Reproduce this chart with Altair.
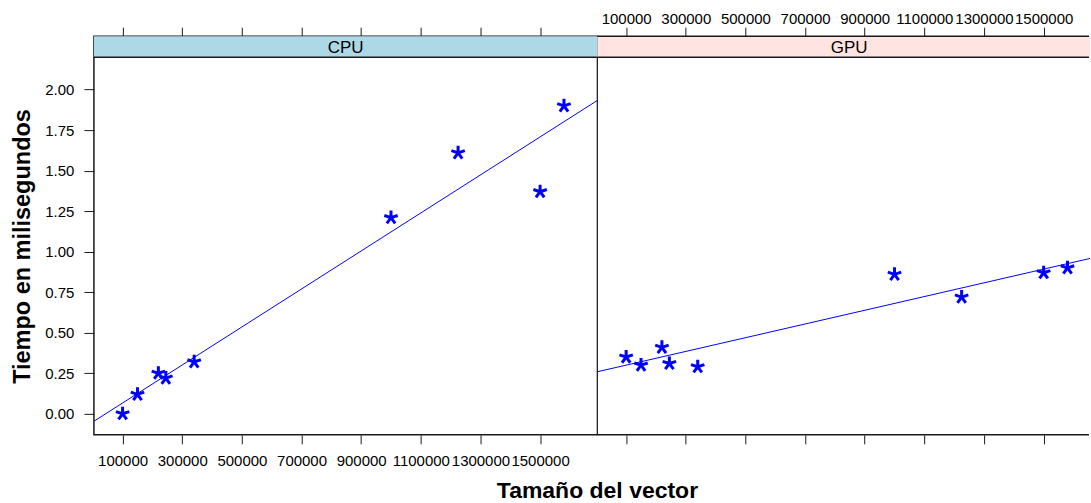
import altair as alt
import pandas as pd

# ---- data ----
sizes = [100000, 150000, 220000, 245000, 340000, 1000000, 1225000, 1500000, 1580000]
cpu_ms = [0.00, 0.12, 0.25, 0.22, 0.32, 1.21, 1.61, 1.37, 1.90]
gpu_ms = [0.35, 0.30, 0.41, 0.31, 0.29, 0.86, 0.72, 0.87, 0.90]
panels = ["CPU", "GPU"]
strip_colors = ["#ADD8E6", "#FFE4E1"]
x_ticks = [100000, 300000, 500000, 700000, 900000, 1100000, 1300000, 1500000]
y_ticks = [0.0, 0.25, 0.5, 0.75, 1.0, 1.25, 1.5, 1.75, 2.0]
x_title = "Tamaño del vector"
y_title = "Tiempo en milisegundos"

FONT = "Liberation Sans"
XD = [3850, 1692300]
YD = [-0.13, 2.2]
W_L, W_R, H, SH = 504, 493, 378, 21
HT = H + SH
XD_R = [XD[0], XD[0] + (XD[1] - XD[0]) * W_R / W_L]
BORDER = "#1a1a1a"
BW = 1.5
STAR = "M0,-1L0,0M0.951,-0.309L0,0M0.588,0.809L0,0M-0.588,0.809L0,0M-0.951,-0.309L0,0"


def make_panel(name, values, color, first):
    w = W_L if first else W_R
    dom = XD if first else XD_R
    xscale = alt.Scale(domain=dom, nice=False, zero=False)
    yscale = alt.Scale(domain=YD, nice=False, zero=False, range=[HT, SH])

    top_axis = alt.Axis(orient="top", values=x_ticks, format="d", labels=not first,
                        tickSize=9, labelPadding=1, labelOverlap=False, labelFlush=False,
                        title=None, domain=False, grid=False)
    bottom_axis = alt.Axis(orient="bottom", values=x_ticks, format="d", labels=first,
                           tickSize=9, labelPadding=10, labelOverlap=False, labelFlush=False,
                           title=None, domain=False, grid=False)
    if first:
        y_axis = alt.Axis(values=y_ticks, format=".2f", tickSize=10, labelPadding=10,
                          title=y_title, titleFontSize=23.5, titleFontWeight="bold",
                          titlePadding=10, domain=False, grid=False, labelFlush=False)
    else:
        y_axis = None

    strip_df = pd.DataFrame({"panel": [name], "mid": [(XD[0] + XD[1]) / 2]})
    sbase = alt.Chart(strip_df)
    s_rect = sbase.mark_rect(fill=color, strokeWidth=0).encode(
        x=alt.value(0), x2=alt.value(w), y=alt.value(0), y2=alt.value(SH))
    s_rule = sbase.mark_rule(color=BORDER, strokeWidth=BW).encode(
        x=alt.value(0), x2=alt.value(w if first else w - 1), y=alt.value(SH))
    s_text = sbase.mark_text(fontSize=17, font=FONT, color="black", baseline="middle").encode(
        x=alt.X("mid:Q", scale=xscale, axis=top_axis),
        y=alt.value(SH / 2 + 1),
        text="panel:N",
    )

    df = pd.DataFrame({"size": sizes, "time": values})
    base = alt.Chart(df)
    pts = base.mark_point(shape=STAR, size=200, strokeWidth=3, color="#0000FF",
                          opacity=1, filled=False).encode(
        x=alt.X("size:Q", scale=xscale, axis=bottom_axis),
        y=alt.Y("time:Q", scale=yscale, axis=y_axis),
    )
    line = base.transform_regression("size", "time", extent=dom).mark_line(
        color="#0000FF", strokeWidth=1, clip=True).encode(
        x=alt.X("size:Q", scale=xscale, axis=bottom_axis),
        y=alt.Y("time:Q", scale=yscale, axis=y_axis))
    data_layer = alt.layer(pts, line)

    extra = []
    if first:
        tdf = pd.DataFrame({"t": [x_title]})
        xt = alt.Chart(tdf).mark_text(fontSize=23, fontWeight="bold", font=FONT,
                                      color="black", baseline="middle", align="center").encode(
            x=alt.value(W_L), y=alt.value(HT + 56), text="t:N")
        extra.append(xt)
        view = alt.ViewBackground(fill="white", stroke=BORDER, strokeWidth=BW)
    else:
        r_top = sbase.mark_rule(color=BORDER, strokeWidth=BW).encode(
            x=alt.value(0), x2=alt.value(w - 1), y=alt.value(0))
        r_bot = sbase.mark_rule(color=BORDER, strokeWidth=BW).encode(
            x=alt.value(0), x2=alt.value(w - 1), y=alt.value(HT))
        extra += [r_top, r_bot]
        view = alt.ViewBackground(fill="white", stroke="transparent")

    panel = alt.layer(s_rect, s_rule, s_text, data_layer, *extra).resolve_scale(
        x="independent").properties(width=w, height=HT, view=view)
    return panel


left = make_panel(panels[0], cpu_ms, strip_colors[0], True)
right = make_panel(panels[1], gpu_ms, strip_colors[1], False)

chart = alt.hconcat(left, right, spacing=0, bounds="flush").properties(
    padding={"left": 10, "top": 10, "right": 0, "bottom": 0},
    background="white",
).configure_axis(
    labelFont=FONT, titleFont=FONT, labelColor="black", titleColor="black",
    tickColor=BORDER, tickWidth=1, labelFontSize=15, grid=False, domain=False,
).configure_view(stroke=BORDER)

chart.save("out.html", embed_options={"renderer": "svg", "actions": False})
